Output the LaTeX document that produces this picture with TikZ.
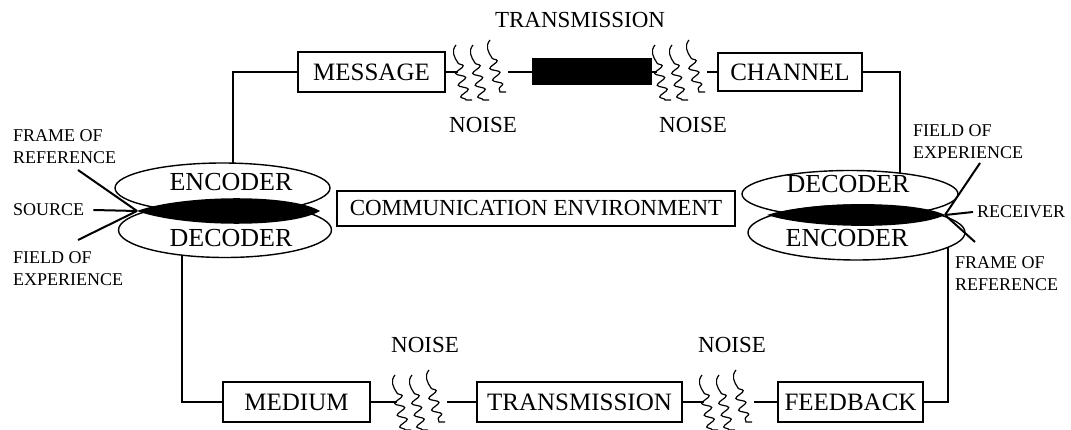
\documentclass[tikz,border=0pt]{standalone}
\usepackage{fontspec}
\setmainfont{Liberation Serif}
\usetikzlibrary{shapes.geometric}
\usetikzlibrary{decorations.pathmorphing}
\usetikzlibrary{positioning}
\usetikzlibrary{calc}

% three wavy noise lines round a (named) gap node
\newcommand{\noisewaves}[1]{%
  \foreach \wx/\wy/\wl in {-27/-27/37, -10/-27/37, 7/-32/34} {
    \draw[wave] ($(#1)+(\wx,\wy)$) .. controls +(-5,6) and +(-4,-6) .. ++(2,18)
      decorate {-- ++(8,\wl)} -- ++(6,0);
  }
}

\begin{document}
\begin{tikzpicture}[x=1pt, y=-1pt,
    wire/.style={line width=2pt},
    stage/.style={draw, line width=1.3pt, minimum height=40pt, inner sep=0pt, font=\fontsize{25}{28}\selectfont},
    lobe/.style={ellipse, draw, line width=1.4pt, inner sep=0pt},
    lobetext/.style={inner sep=0pt, font=\fontsize{26}{28}\selectfont},
    side/.style={inner sep=0pt, anchor=west, align=left, font=\fontsize{18}{22}\selectfont},
    tag/.style={inner sep=0pt, font=\fontsize{23}{25}\selectfont},
    gap/.style={minimum width=50pt, minimum height=60pt, inner sep=0pt},
    wave/.style={line width=1.2pt, decoration={snake, segment length=12pt, amplitude=4.5pt}}]
  \useasboundingbox (0,0) rectangle (1071,430);

  % top row
  \node[stage, minimum width=147pt] (msg) at (371.5, 72) {MESSAGE};
  \node[gap] (noiseA) at (483, 72) {};
  \node[fill=black, minimum width=120pt, minimum height=27pt, inner sep=0pt] (bar) at (592, 72) {};
  \node[gap] (noiseB) at (682, 72) {};
  \node[stage, minimum width=144pt, minimum height=38pt] (chan) at (790, 72) {CHANNEL};

  \node[tag] (transtop) at (580, 20) {TRANSMISSION};
  \node[tag] (noisetxtA) at (483, 125) {NOISE};
  \node[tag] (noisetxtB) at (693, 125) {NOISE};

  % source side
  \node[lobe, minimum width=215pt, minimum height=50pt] (srcenc) at (222.5, 188) {};
  \node[lobe, minimum width=213pt, minimum height=55pt] (srcdec) at (225, 230) {};
  \node[lobetext] (srcenct) at (231, 182) {ENCODER};
  \node[lobetext] (srcdect) at (231, 238) {DECODER};
  \coordinate (lensLa) at (137, 211);
  \coordinate (lensLb) at (320, 211);
  \fill (lensLa) .. controls (180, 195) and (290, 193) .. (lensLb) .. controls (290, 229) and (180, 227) .. (lensLa);

  % receiver side
  \node[lobe, minimum width=216pt, minimum height=47pt] (rcvdec) at (850, 194) {};
  \node[lobe, minimum width=217pt, minimum height=55pt] (rcvenc) at (856.5, 232.5) {};
  \node[lobetext] (rcvdect) at (848, 184) {DECODER};
  \node[lobetext] (rcvenct) at (847, 238) {ENCODER};
  \coordinate (lensRa) at (767, 215);
  \coordinate (lensRb) at (945, 215);
  \fill (lensRa) .. controls (810, 201) and (915, 200) .. (lensRb) .. controls (915, 230) and (810, 229) .. (lensRa);

  \node[stage, minimum width=398pt, minimum height=35pt, font=\fontsize{23}{25}\selectfont] (env) at (536, 208.5) {COMMUNICATION ENVIRONMENT};

  % side labels
  \node[side] (frameL) at (13, 146.5) {FRAME OF\\REFERENCE};
  \node[side] (srclab) at (13, 210) {SOURCE};
  \node[side] (fieldL) at (13, 269) {FIELD OF\\EXPERIENCE};
  \node[side] (fieldR) at (913, 142) {FIELD OF\\EXPERIENCE};
  \node[side] (rcvlab) at (977, 212) {RECEIVER};
  \node[side] (frameR) at (955, 273.5) {FRAME OF\\REFERENCE};

  \coordinate (frameLend) at (78, 170);
  \coordinate (fieldLend) at (78, 240);
  \coordinate (fieldRend) at (980, 163);
  \coordinate (frameRend) at (975, 242);
  \draw[wire] (frameLend) -- (lensLa);
  \draw[wire] (fieldLend) -- (lensLa);
  \draw[wire] ([xshift=9pt]srclab.east) -- (lensLa);
  \draw[wire] (fieldRend) -- (lensRb);
  \draw[wire] (frameRend) -- (lensRb);
  \draw[wire] ([xshift=-4pt]rcvlab.west) -- (lensRb);

  % bottom row
  \node[stage, minimum width=147pt] (med) at (296.5, 402) {MEDIUM};
  \node[gap] (noiseC) at (422, 402) {};
  \node[stage, minimum width=205pt] (trans) at (579.5, 402) {TRANSMISSION};
  \node[gap] (noiseD) at (729, 402) {};
  \node[stage, minimum width=145pt] (feed) at (850.5, 402) {FEEDBACK};

  \node[tag] (noisetxtC) at (425, 345) {NOISE};
  \node[tag] (noisetxtD) at (732, 345) {NOISE};

  % wires
  \coordinate (srcenctop) at (233, 163);
  \coordinate (srcdecbot) at (182, 255);
  \coordinate (rcvdectop) at (900, 173);
  \coordinate (rcvencbot) at (948, 247);
  \draw[wire] (srcenctop) |- (msg.west);
  \draw[wire] (msg.east) -- (noiseA.west);
  \draw[wire] (noiseA.east) -- (bar.west);
  \draw[wire] (bar.east) -- (noiseB.west);
  \draw[wire] (noiseB.east) -- (chan.west);
  \draw[wire] (chan.east) -| (rcvdectop);
  \draw[wire] (srcdecbot) |- (med.west);
  \draw[wire] (med.east) -- (noiseC.west);
  \draw[wire] (noiseC.east) -- (trans.west);
  \draw[wire] (trans.east) -- (noiseD.west);
  \draw[wire] (noiseD.east) -- (feed.west);
  \draw[wire] (feed.east) -| (rcvencbot);

  % noise
  \noisewaves{noiseA}
  \noisewaves{noiseB}
  \noisewaves{noiseC}
  \noisewaves{noiseD}
\end{tikzpicture}
\end{document}
